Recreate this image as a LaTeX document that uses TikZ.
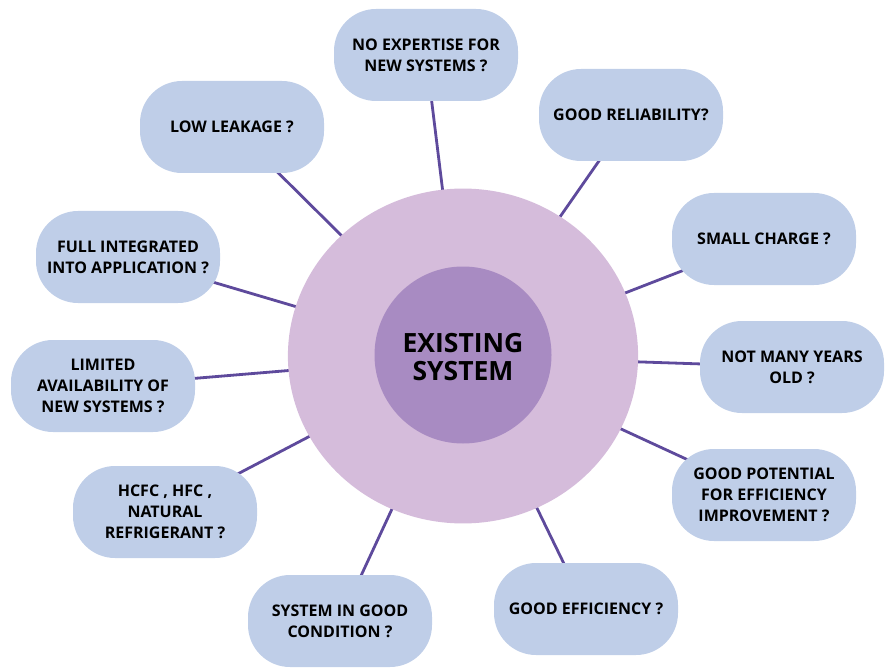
\documentclass[tikz,border=0pt]{standalone}
\usepackage{fontspec}
\setmainfont{Open Sans}
\usetikzlibrary{backgrounds}
\definecolor{boxblue}{RGB}{191,206,232}
\definecolor{outerc}{RGB}{213,188,219}
\definecolor{innerc}{RGB}{168,139,194}
\definecolor{linec}{RGB}{94,74,156}
\begin{document}
\begin{tikzpicture}[x=1pt,y=-1pt,
  qbox/.style={draw=none,fill=boxblue,rounded corners=42pt,minimum width=184pt,minimum height=92pt,
    align=center,inner sep=0pt,font=\fontsize{16}{21}\selectfont\bfseries},
  spoke/.style={draw=linec,line width=2.8pt}]
\useasboundingbox (0,0) rectangle (888,668);
\node[circle,fill=outerc,minimum size=340pt,inner sep=0pt,xscale=1.03,yscale=0.985] (outer) at (463,356) {};
\node[circle,fill=innerc,minimum size=177pt,inner sep=0pt] (inner) at (463,355) {};
\node[align=center,font=\fontsize{26.5}{28}\selectfont\bfseries] (title) at (463,357) {EXISTING\\SYSTEM};
\node[qbox] (b1) at (426,55) {NO EXPERTISE FOR\\NEW SYSTEMS ?};
\node[qbox] (b2) at (631,115) {GOOD RELIABILITY?};
\node[qbox] (b3) at (232,127) {LOW LEAKAGE ?};
\node[qbox] (b4) at (128,257) {FULL INTEGRATED\\INTO APPLICATION ?};
\node[qbox] (b5) at (764,239) {SMALL CHARGE ?};
\node[qbox] (b6) at (103,386) {LIMITED\\AVAILABILITY OF\\NEW SYSTEMS ?};
\node[qbox] (b7) at (792,367) {NOT MANY YEARS\\OLD ?};
\node[qbox] (b8) at (165,512) {HCFC , HFC ,\\NATURAL\\REFRIGERANT ?};
\node[qbox] (b9) at (764,495) {GOOD POTENTIAL\\FOR EFFICIENCY\\IMPROVEMENT ?};
\node[qbox] (b10) at (586,609) {GOOD EFFICIENCY ?};
\node[qbox] (b11) at (340,621) {SYSTEM IN GOOD\\CONDITION ?};
\begin{scope}[on background layer]
\foreach \b in {b1,b2,b3,b4,b5,b6,b7,b8,b9,b10,b11}
  \draw[spoke] (outer.center) -- (\b.center);
\end{scope}
\end{tikzpicture}
\end{document}
